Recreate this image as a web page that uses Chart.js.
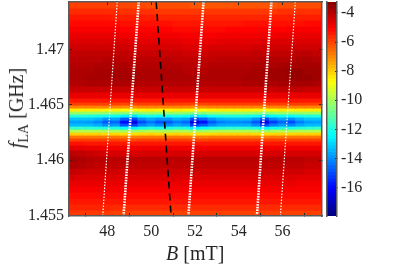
<!DOCTYPE html>
<html>
<head>
<meta charset="utf-8">
<script src="https://cdn.jsdelivr.net/npm/chart.js@4"></script>
<style>
    html, body { margin: 0; background: #fff; }
    #wrap { position: relative; width: 415px; height: 265px; overflow: hidden; }
    #mapBox { position: absolute; left: 0; top: 0; width: 415px; height: 265px; }
    #barBox { position: absolute; left: 320px; top: 0; width: 95px; height: 265px; }
    .axisTitle { position: absolute; font-family: "Liberation Serif", serif; font-size: 20px; color: #262626; white-space: nowrap; line-height: 1; }
    .axisTitle sub { font-size: 14px; line-height: 0; }
    #xTitle { left: 166px; top: 243px; }
    #yTitle { left: 16px; top: 108px; transform: translate(-50%, -50%) rotate(-90deg); }
</style>
</head>
<body>
<div id="wrap">
    <div id="mapBox"><canvas id="mapChart"></canvas></div>
    <div id="barBox"><canvas id="barChart"></canvas></div>
    <div class="axisTitle" id="xTitle"><i>B</i> [mT]</div>
    <div class="axisTitle" id="yTitle"><i>f</i><sub>LA</sub> [GHz]</div>
</div>
<script>
// field columns (bar centres, mT)
const fieldB = [46.4, 46.8, 47.2, 47.6, 48.0, 48.4, 48.8, 49.2, 49.6, 50.0, 50.4, 50.8, 51.2, 51.6, 52.0,
    52.4, 52.8, 53.2, 53.6, 54.0, 54.4, 54.8, 55.2, 55.6, 56.0, 56.4, 56.8, 57.2, 57.6];

// frequency row edges, top to bottom (GHz)
const freqEdges = [1.47431, 1.47377, 1.47323, 1.47269, 1.47214, 1.47160, 1.47106, 1.47052, 1.46997, 1.46943,
    1.46889, 1.46835, 1.46780, 1.46726, 1.46672, 1.46618, 1.46563, 1.46527, 1.46500, 1.46473, 1.46446,
    1.46419, 1.46392, 1.46364, 1.46337, 1.46310, 1.46283, 1.46256, 1.46229, 1.46202, 1.46175, 1.46138,
    1.46093, 1.46039, 1.45985, 1.45930, 1.45876, 1.45822, 1.45768, 1.45713, 1.45659, 1.45605, 1.45551, 1.45496];

// measured level, one row per frequency band, one value per field column
const levelRows = [
    [-6.0,-6.0,-6.0,-6.0,-6.0,-6.0,-6.1,-6.1,-6.1,-6.2,-6.2,-6.2,-6.2,-6.2,-6.3,-6.3,-6.3,-6.3,-6.3,-6.3,-6.3,-6.3,-6.3,-6.3,-6.2,-6.2,-6.2,-6.2,-6.2],
    [-5.7,-5.7,-5.7,-5.7,-5.7,-5.7,-5.8,-5.8,-5.8,-5.8,-5.9,-5.9,-5.9,-5.9,-5.9,-5.9,-5.9,-5.9,-5.9,-5.9,-5.9,-5.9,-5.9,-5.9,-5.8,-5.8,-5.8,-5.8,-5.8],
    [-5.4,-5.4,-5.4,-5.4,-5.4,-5.5,-5.5,-5.5,-5.5,-5.5,-5.6,-5.6,-5.6,-5.6,-5.6,-5.6,-5.6,-5.6,-5.6,-5.6,-5.6,-5.6,-5.6,-5.5,-5.5,-5.5,-5.5,-5.5,-5.5],
    [-5.2,-5.2,-5.2,-5.2,-5.2,-5.2,-5.3,-5.3,-5.3,-5.3,-5.3,-5.3,-5.4,-5.4,-5.4,-5.4,-5.4,-5.4,-5.4,-5.4,-5.3,-5.3,-5.3,-5.3,-5.3,-5.3,-5.3,-5.2,-5.2],
    [-5.0,-5.0,-5.0,-5.0,-5.0,-5.0,-5.1,-5.1,-5.1,-5.1,-5.1,-5.1,-5.2,-5.2,-5.2,-5.2,-5.2,-5.2,-5.1,-5.1,-5.1,-5.1,-5.1,-5.1,-5.1,-5.0,-5.0,-5.0,-5.0],
    [-4.8,-4.8,-4.8,-4.8,-4.8,-4.8,-4.9,-4.9,-4.9,-4.9,-4.9,-4.9,-4.9,-5.0,-5.0,-5.0,-5.0,-4.9,-4.9,-4.9,-4.9,-4.9,-4.9,-4.9,-4.8,-4.8,-4.8,-4.8,-4.8],
    [-4.6,-4.6,-4.6,-4.6,-4.6,-4.6,-4.6,-4.7,-4.7,-4.7,-4.7,-4.7,-4.7,-4.8,-4.8,-4.8,-4.8,-4.7,-4.7,-4.7,-4.7,-4.7,-4.6,-4.6,-4.6,-4.6,-4.6,-4.6,-4.6],
    [-4.4,-4.4,-4.4,-4.4,-4.4,-4.4,-4.4,-4.5,-4.5,-4.5,-4.5,-4.5,-4.5,-4.6,-4.6,-4.6,-4.5,-4.5,-4.5,-4.5,-4.5,-4.4,-4.4,-4.4,-4.4,-4.4,-4.4,-4.4,-4.4],
    [-4.2,-4.2,-4.2,-4.2,-4.2,-4.2,-4.2,-4.3,-4.3,-4.3,-4.3,-4.3,-4.3,-4.4,-4.4,-4.4,-4.3,-4.3,-4.3,-4.3,-4.3,-4.2,-4.2,-4.2,-4.2,-4.2,-4.1,-4.1,-4.2],
    [-4.1,-4.1,-4.1,-4.1,-4.0,-4.0,-4.1,-4.1,-4.1,-4.1,-4.1,-4.1,-4.2,-4.2,-4.2,-4.2,-4.2,-4.1,-4.1,-4.1,-4.1,-4.1,-4.0,-4.0,-4.0,-4.0,-3.9,-3.9,-4.0],
    [-4.0,-4.0,-4.0,-3.9,-3.9,-3.9,-3.9,-4.0,-4.0,-4.0,-4.0,-4.0,-4.0,-4.1,-4.1,-4.1,-4.0,-4.0,-4.0,-4.0,-4.0,-3.9,-3.9,-3.9,-3.8,-3.8,-3.8,-3.8,-3.8],
    [-3.9,-3.9,-3.9,-3.8,-3.8,-3.8,-3.8,-3.9,-3.9,-3.9,-3.9,-3.9,-3.9,-4.0,-4.0,-4.0,-3.9,-3.9,-3.9,-3.9,-3.9,-3.8,-3.8,-3.7,-3.7,-3.6,-3.6,-3.7,-3.7],
    [-3.9,-3.9,-3.8,-3.8,-3.8,-3.8,-3.8,-3.8,-3.9,-3.9,-3.9,-3.9,-3.9,-3.9,-3.9,-3.9,-3.9,-3.9,-3.9,-3.9,-3.8,-3.8,-3.8,-3.7,-3.7,-3.6,-3.6,-3.6,-3.7],
    [-4.0,-4.0,-3.9,-3.9,-3.9,-3.9,-3.9,-3.9,-4.0,-4.0,-4.0,-4.0,-4.0,-4.0,-4.0,-4.0,-4.0,-4.0,-4.0,-4.0,-3.9,-3.9,-3.9,-3.9,-3.8,-3.8,-3.8,-3.8,-3.9],
    [-4.3,-4.3,-4.3,-4.3,-4.3,-4.3,-4.3,-4.3,-4.3,-4.3,-4.3,-4.3,-4.3,-4.3,-4.3,-4.3,-4.3,-4.3,-4.3,-4.3,-4.3,-4.3,-4.3,-4.3,-4.2,-4.2,-4.2,-4.3,-4.3],
    [-4.8,-4.8,-4.8,-4.8,-4.8,-4.8,-4.8,-4.8,-4.8,-4.8,-4.8,-4.8,-4.8,-4.8,-4.8,-4.8,-4.8,-4.8,-4.8,-4.8,-4.8,-4.8,-4.8,-4.8,-4.8,-4.8,-4.8,-4.8,-4.8],
    [-5.4,-5.4,-5.4,-5.4,-5.4,-5.4,-5.4,-5.4,-5.4,-5.4,-5.4,-5.4,-5.4,-5.4,-5.4,-5.4,-5.4,-5.4,-5.4,-5.4,-5.4,-5.4,-5.4,-5.4,-5.4,-5.4,-5.4,-5.4,-5.4],
    [-6.0,-6.0,-6.0,-6.0,-6.0,-6.0,-6.1,-6.1,-6.0,-6.0,-6.0,-6.0,-6.0,-6.0,-6.1,-6.1,-6.0,-6.0,-6.0,-6.0,-6.0,-6.0,-6.1,-6.0,-6.0,-6.0,-6.0,-6.0,-6.0],
    [-7.0,-7.0,-7.0,-7.0,-7.0,-7.0,-7.1,-7.1,-7.0,-7.0,-7.0,-7.0,-7.0,-7.0,-7.1,-7.1,-7.0,-7.0,-7.0,-7.0,-7.0,-7.0,-7.1,-7.0,-7.0,-7.0,-7.0,-7.0,-7.0],
    [-8.5,-8.5,-8.5,-8.5,-8.6,-8.6,-8.7,-8.8,-8.6,-8.5,-8.6,-8.6,-8.5,-8.6,-8.8,-8.7,-8.6,-8.5,-8.5,-8.5,-8.5,-8.6,-8.7,-8.6,-8.5,-8.6,-8.5,-8.5,-8.5],
    [-10.2,-10.2,-10.2,-10.2,-10.3,-10.3,-10.4,-10.5,-10.3,-10.2,-10.3,-10.3,-10.2,-10.3,-10.5,-10.4,-10.3,-10.2,-10.2,-10.2,-10.2,-10.3,-10.5,-10.3,-10.2,-10.3,-10.2,-10.2,-10.2],
    [-11.9,-11.9,-12.0,-12.1,-12.2,-12.2,-12.6,-12.8,-12.3,-12.1,-12.3,-12.2,-12.1,-12.2,-12.8,-12.6,-12.2,-12.1,-12.0,-12.0,-12.1,-12.2,-12.7,-12.4,-12.2,-12.3,-12.1,-12.0,-11.9],
    [-13.3,-13.3,-13.3,-13.5,-14.0,-13.8,-14.8,-15.2,-14.1,-13.7,-14.0,-14.0,-13.6,-13.8,-15.2,-14.7,-14.0,-13.6,-13.5,-13.5,-13.5,-14.0,-15.1,-14.2,-13.8,-14.1,-13.6,-13.3,-13.3],
    [-13.8,-13.8,-13.9,-14.2,-14.8,-14.6,-16.0,-16.5,-15.0,-14.4,-14.9,-14.8,-14.3,-14.6,-16.6,-15.9,-14.8,-14.3,-14.1,-14.1,-14.2,-14.8,-16.4,-15.2,-14.6,-15.0,-14.3,-13.9,-13.8],
    [-13.4,-13.4,-13.4,-13.6,-14.1,-13.9,-14.9,-15.3,-14.2,-13.8,-14.1,-14.1,-13.7,-13.9,-15.3,-14.8,-14.1,-13.7,-13.6,-13.6,-13.6,-14.1,-15.2,-14.3,-13.9,-14.2,-13.7,-13.4,-13.4],
    [-11.7,-11.7,-11.8,-11.9,-12.0,-12.0,-12.4,-12.6,-12.1,-11.9,-12.1,-12.0,-11.9,-12.0,-12.6,-12.4,-12.0,-11.9,-11.8,-11.8,-11.9,-12.0,-12.5,-12.2,-12.0,-12.1,-11.9,-11.8,-11.7],
    [-9.9,-9.9,-9.9,-9.9,-10.0,-10.0,-10.1,-10.2,-10.0,-9.9,-10.0,-10.0,-9.9,-10.0,-10.2,-10.1,-10.0,-9.9,-9.9,-9.9,-9.9,-10.0,-10.2,-10.0,-9.9,-10.0,-9.9,-9.9,-9.9],
    [-8.1,-8.1,-8.1,-8.1,-8.2,-8.2,-8.3,-8.3,-8.2,-8.1,-8.2,-8.2,-8.1,-8.2,-8.3,-8.3,-8.2,-8.1,-8.1,-8.1,-8.1,-8.2,-8.3,-8.2,-8.1,-8.2,-8.1,-8.1,-8.1],
    [-6.8,-6.8,-6.8,-6.8,-6.8,-6.8,-6.9,-6.9,-6.8,-6.8,-6.8,-6.8,-6.8,-6.8,-6.9,-6.9,-6.8,-6.8,-6.8,-6.8,-6.8,-6.8,-6.9,-6.8,-6.8,-6.8,-6.8,-6.8,-6.8],
    [-6.0,-6.0,-6.0,-6.0,-6.0,-6.0,-6.1,-6.1,-6.0,-6.0,-6.0,-6.0,-6.0,-6.0,-6.1,-6.1,-6.0,-6.0,-6.0,-6.0,-6.0,-6.0,-6.1,-6.0,-6.0,-6.0,-6.0,-6.0,-6.0],
    [-5.3,-5.3,-5.4,-5.4,-5.4,-5.4,-5.4,-5.4,-5.4,-5.4,-5.4,-5.4,-5.4,-5.4,-5.4,-5.4,-5.4,-5.4,-5.4,-5.4,-5.4,-5.4,-5.4,-5.4,-5.4,-5.4,-5.4,-5.4,-5.4],
    [-4.7,-4.7,-4.8,-4.8,-4.9,-4.9,-4.9,-4.9,-4.9,-4.9,-4.9,-4.9,-4.9,-4.9,-4.9,-4.9,-4.9,-4.9,-4.9,-4.9,-4.9,-4.9,-4.9,-4.9,-4.9,-4.9,-4.9,-4.9,-4.9],
    [-4.1,-4.2,-4.3,-4.4,-4.5,-4.5,-4.5,-4.5,-4.5,-4.5,-4.5,-4.5,-4.5,-4.5,-4.5,-4.5,-4.5,-4.5,-4.5,-4.5,-4.5,-4.5,-4.5,-4.5,-4.5,-4.5,-4.5,-4.5,-4.5],
    [-3.8,-3.9,-4.0,-4.1,-4.1,-4.1,-4.1,-4.1,-4.1,-4.1,-4.1,-4.1,-4.1,-4.1,-4.1,-4.1,-4.1,-4.1,-4.1,-4.1,-4.1,-4.1,-4.1,-4.1,-4.1,-4.1,-4.1,-4.2,-4.2],
    [-3.9,-4.0,-4.1,-4.2,-4.2,-4.2,-4.2,-4.2,-4.2,-4.2,-4.2,-4.2,-4.2,-4.2,-4.2,-4.2,-4.2,-4.2,-4.2,-4.2,-4.2,-4.2,-4.2,-4.2,-4.2,-4.2,-4.2,-4.3,-4.3],
    [-4.2,-4.3,-4.4,-4.4,-4.4,-4.4,-4.4,-4.4,-4.4,-4.4,-4.4,-4.4,-4.4,-4.4,-4.4,-4.4,-4.4,-4.4,-4.4,-4.4,-4.4,-4.4,-4.4,-4.4,-4.4,-4.4,-4.4,-4.5,-4.5],
    [-4.5,-4.6,-4.6,-4.6,-4.6,-4.6,-4.6,-4.6,-4.6,-4.6,-4.6,-4.6,-4.6,-4.6,-4.6,-4.6,-4.6,-4.6,-4.6,-4.6,-4.6,-4.6,-4.6,-4.6,-4.6,-4.6,-4.7,-4.7,-4.7],
    [-4.8,-4.8,-4.8,-4.8,-4.8,-4.8,-4.8,-4.8,-4.8,-4.8,-4.8,-4.8,-4.8,-4.8,-4.8,-4.8,-4.8,-4.8,-4.8,-4.8,-4.8,-4.8,-4.8,-4.8,-4.8,-4.8,-4.9,-4.9,-4.9],
    [-5.0,-5.0,-5.0,-5.0,-5.0,-5.0,-5.0,-5.0,-5.0,-5.0,-5.0,-5.0,-5.0,-5.0,-5.0,-5.0,-5.0,-5.0,-5.0,-5.0,-5.0,-5.0,-5.0,-5.0,-5.0,-5.0,-5.0,-5.0,-5.0],
    [-5.2,-5.2,-5.2,-5.2,-5.2,-5.2,-5.2,-5.2,-5.2,-5.2,-5.2,-5.2,-5.2,-5.2,-5.2,-5.2,-5.2,-5.2,-5.2,-5.2,-5.2,-5.2,-5.2,-5.2,-5.2,-5.2,-5.2,-5.2,-5.2],
    [-5.4,-5.4,-5.4,-5.4,-5.4,-5.4,-5.4,-5.4,-5.4,-5.4,-5.4,-5.4,-5.4,-5.4,-5.4,-5.4,-5.4,-5.4,-5.4,-5.4,-5.4,-5.4,-5.4,-5.4,-5.4,-5.4,-5.4,-5.4,-5.4],
    [-5.6,-5.6,-5.6,-5.6,-5.6,-5.7,-5.7,-5.7,-5.7,-5.7,-5.7,-5.7,-5.7,-5.7,-5.7,-5.7,-5.7,-5.7,-5.7,-5.7,-5.7,-5.7,-5.7,-5.7,-5.7,-5.7,-5.7,-5.7,-5.7],
    [-5.9,-5.9,-5.9,-5.9,-5.9,-6.0,-6.0,-6.0,-6.0,-6.0,-6.0,-6.0,-6.0,-6.0,-6.0,-6.0,-6.0,-6.0,-6.0,-6.0,-6.0,-6.0,-6.0,-6.0,-6.0,-6.0,-6.0,-6.0,-6.0]
];

// overlaid resonance lines, field at top edge and bottom edge of the plot
const lineFreqs = [1.47431, 1.45496];
const thinLeft = [48.45, 47.79];
const thickA = [49.43, 48.74];
const blackDash = [50.23, 50.91];
const thickB = [52.39, 51.70];
const thickC = [55.49, 54.83];
const thinRight = [56.58, 55.90];

const xTicks = [48, 50, 52, 54, 56];
const yTicks = [1.455, 1.46, 1.465, 1.47];
const barTicks = [-16, -14, -12, -10, -8, -6, -4];

const levelMin = -17.95;
const levelMax = -3.25;
const tickFont = { family: '"Liberation Serif", serif', size: 16 };
const inkColor = '#262626';
const frameColor = '#5a5a5a';

// matlab jet
function jetColor(value) {
    let t = (value - levelMin) / (levelMax - levelMin);
    t = Math.min(1, Math.max(0, t));
    const r = Math.min(1, Math.max(0, 1.5 - Math.abs(4 * t - 3)));
    const g = Math.min(1, Math.max(0, 1.5 - Math.abs(4 * t - 2)));
    const b = Math.min(1, Math.max(0, 1.5 - Math.abs(4 * t - 1)));
    return 'rgb(' + Math.round(r * 255) + ',' + Math.round(g * 255) + ',' + Math.round(b * 255) + ')';
}

function setTicks(list) {
    return scale => { scale.ticks = list.map(v => ({ value: v })); };
}

// pin an axis box to a fixed size and stop tick labels pushing the plot area in
function pinBox(size) {
    return scale => {
        if (scale.isHorizontal()) scale.height = size;
        else scale.width = size;
        scale.paddingTop = scale.paddingBottom = scale.paddingLeft = scale.paddingRight = 0;
    };
}

function lineDataset(xs, color, width, dash) {
    return {
        type: 'line',
        data: xs.map((x, i) => ({ x: x, y: lineFreqs[i] })),
        borderColor: color,
        borderWidth: width,
        borderDash: dash,
        pointRadius: 0,
        fill: false,
        order: 0
    };
}

function renderMap() {
    const datasets = [
        lineDataset(thinLeft, '#ffffff', 1.2, [1.5, 1.5]),
        lineDataset(thickA, '#ffffff', 2.6, [1.6, 1.1]),
        lineDataset(blackDash, '#000000', 1.6, [7, 5]),
        lineDataset(thickB, '#ffffff', 2.6, [1.6, 1.1]),
        lineDataset(thickC, '#ffffff', 2.6, [1.6, 1.1]),
        lineDataset(thinRight, '#ffffff', 1.2, [1.5, 1.5])
    ];

    levelRows.forEach((row, r) => {
        datasets.push({
            type: 'bar',
            data: row.map((v, c) => ({ x: fieldB[c], y: [freqEdges[r + 1], freqEdges[r]] })),
            backgroundColor: row.map(jetColor),
            borderWidth: 0,
            inflateAmount: 0.6,
            grouped: false,
            barPercentage: 1,
            categoryPercentage: 1,
            order: 1
        });
    });

    const markGrid = { drawOnChartArea: false, tickLength: -3, color: inkColor, z: 1 };
    const frame = { display: true, color: frameColor, width: 1.5, z: 2 };

    new Chart(document.getElementById('mapChart'), {
        data: { datasets: datasets },
        options: {
            responsive: true,
            maintainAspectRatio: false,
            animation: false,
            events: [],
            layout: { padding: { top: 2, right: 93, left: 0, bottom: 0 } },
            plugins: { legend: { display: false }, tooltip: { enabled: false } },
            scales: {
                x: {
                    type: 'linear', position: 'bottom', min: 46.25, max: 57.8, offset: false,
                    afterBuildTicks: setTicks(xTicks),
                    afterFit: pinBox(49),
                    grid: markGrid, border: frame,
                    ticks: { color: inkColor, font: tickFont, padding: 9, maxRotation: 0, callback: v => String(v) }
                },
                y: {
                    type: 'linear', position: 'left', min: 1.45496, max: 1.47431,
                    afterBuildTicks: setTicks(yTicks),
                    afterFit: pinBox(69),
                    grid: markGrid, border: frame,
                    ticks: { color: inkColor, font: tickFont, padding: 8, callback: v => String(v) }
                },
                xTop: {
                    type: 'linear', position: 'top', min: 46.25, max: 57.8, offset: false,
                    afterBuildTicks: setTicks(xTicks),
                    afterFit: pinBox(0),
                    grid: markGrid, border: frame,
                    ticks: { display: false }
                },
                yRight: {
                    type: 'linear', position: 'right', min: 1.45496, max: 1.47431,
                    afterBuildTicks: setTicks(yTicks),
                    afterFit: pinBox(0),
                    grid: markGrid, border: frame,
                    ticks: { display: false }
                }
            }
        }
    });
}

function renderColorbar() {
    const datasets = [];
    const step = (levelMax - levelMin) / 64;
    for (let i = 0; i < 64; i++) {
        const lo = levelMin + i * step;
        datasets.push({
            data: [[lo, lo + step]],
            backgroundColor: jetColor(lo + step / 2),
            borderWidth: 0,
            inflateAmount: 0.5,
            grouped: false,
            barPercentage: 1,
            categoryPercentage: 1
        });
    }

    new Chart(document.getElementById('barChart'), {
        type: 'bar',
        data: { labels: [''], datasets: datasets },
        options: {
            responsive: true,
            maintainAspectRatio: false,
            animation: false,
            events: [],
            layout: { padding: { top: 2, bottom: 49, left: 7, right: 0 } },
            plugins: { legend: { display: false }, tooltip: { enabled: false } },
            scales: {
                x: { display: false },
                y: {
                    position: 'right', min: levelMin, max: levelMax,
                    afterBuildTicks: setTicks(barTicks),
                    afterFit: pinBox(78),
                    grid: { drawOnChartArea: false, tickLength: -2, color: inkColor, z: 1 },
                    border: { display: true, color: frameColor, width: 1.5, z: 2 },
                    ticks: { color: inkColor, font: tickFont, padding: 6, callback: v => String(v) }
                },
                yLeft: {
                    position: 'left', min: levelMin, max: levelMax,
                    afterFit: pinBox(0),
                    grid: { display: false },
                    border: { display: true, color: frameColor, width: 1.5, z: 2 },
                    ticks: { display: false }
                }
            }
        }
    });
}

renderMap();
renderColorbar();
</script>
</body>
</html>
